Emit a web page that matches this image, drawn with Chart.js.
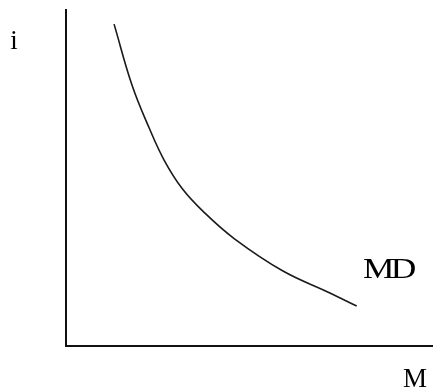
<!DOCTYPE html>
<html lang="en">

<head>
    <meta charset="UTF-8">
    <title>Money demand</title>
    <script src="https://cdn.jsdelivr.net/npm/chart.js"></script>
    <style>
        html, body {
            margin: 0;
            padding: 0;
            background: #fff;
        }

        #wrap {
            width: 433px;
            height: 389px;
        }
    </style>
</head>

<body>
    <div id="wrap"><canvas id="mdChart" width="433" height="389"></canvas></div>

    <script>
        // money supply (x) and interest rate (y)
        const moneyQty = [13.1, 18.0, 22.7, 26.8, 31.7, 37.7, 45.9, 59.0, 71.9, 79.2]
        const interestRate = [95.8, 77.6, 64.8, 55.2, 46.8, 39.7, 31.9, 22.4, 15.8, 11.9]

        const yLabel = 'i'
        const xLabel = 'M'
        const curveLabel = 'MD'

        const serif = '"Liberation Serif", "Times New Roman", serif'

        // plain text labels drawn after the chart
        const labelsPlugin = {
            id: 'labels',
            afterDraw(chart) {
                const ctx = chart.ctx
                const area = chart.chartArea
                const xs = chart.scales.x
                const ys = chart.scales.y
                ctx.save()
                ctx.fillStyle = '#000'
                ctx.font = '27px ' + serif
                ctx.textBaseline = 'alphabetic'

                ctx.textAlign = 'center'
                ctx.fillText(yLabel, 14, 49)

                ctx.textAlign = 'left'
                ctx.fillText(xLabel, area.right - 30, 387)

                // MD sits just above the end of the curve, a bit stretched like the original
                ctx.translate(xs.getPixelForValue(80.9), ys.getPixelForValue(20.3))
                ctx.scale(1.22, 1)
                ctx.font = '29px ' + serif
                ctx.letterSpacing = '-3px'
                ctx.fillText(curveLabel, 0, 0)
                ctx.restore()
            }
        }

        const ctx = document.getElementById('mdChart').getContext('2d')

        new Chart(ctx, {
            type: 'line',
            data: {
                datasets: [{
                    label: curveLabel,
                    data: moneyQty.map((m, k) => ({ x: m, y: interestRate[k] })),
                    borderColor: '#1a1a1a',
                    borderWidth: 1.6,
                    pointRadius: 0,
                    fill: false,
                    tension: 0.4
                }]
            },
            options: {
                responsive: false,
                animation: false,
                layout: {
                    padding: { left: 66, top: 10, right: 0, bottom: 43 }
                },
                plugins: {
                    legend: { display: false },
                    tooltip: { enabled: false }
                },
                scales: {
                    x: {
                        type: 'linear',
                        min: 0,
                        max: 100,
                        grid: { display: false, drawTicks: false },
                        ticks: { display: false },
                        border: { display: true, color: '#111', width: 2 }
                    },
                    y: {
                        type: 'linear',
                        min: 0,
                        max: 100,
                        grid: { display: false, drawTicks: false },
                        ticks: { display: false },
                        border: { display: true, color: '#111', width: 2 }
                    }
                }
            },
            plugins: [labelsPlugin]
        });
    </script>
</body>

</html>
